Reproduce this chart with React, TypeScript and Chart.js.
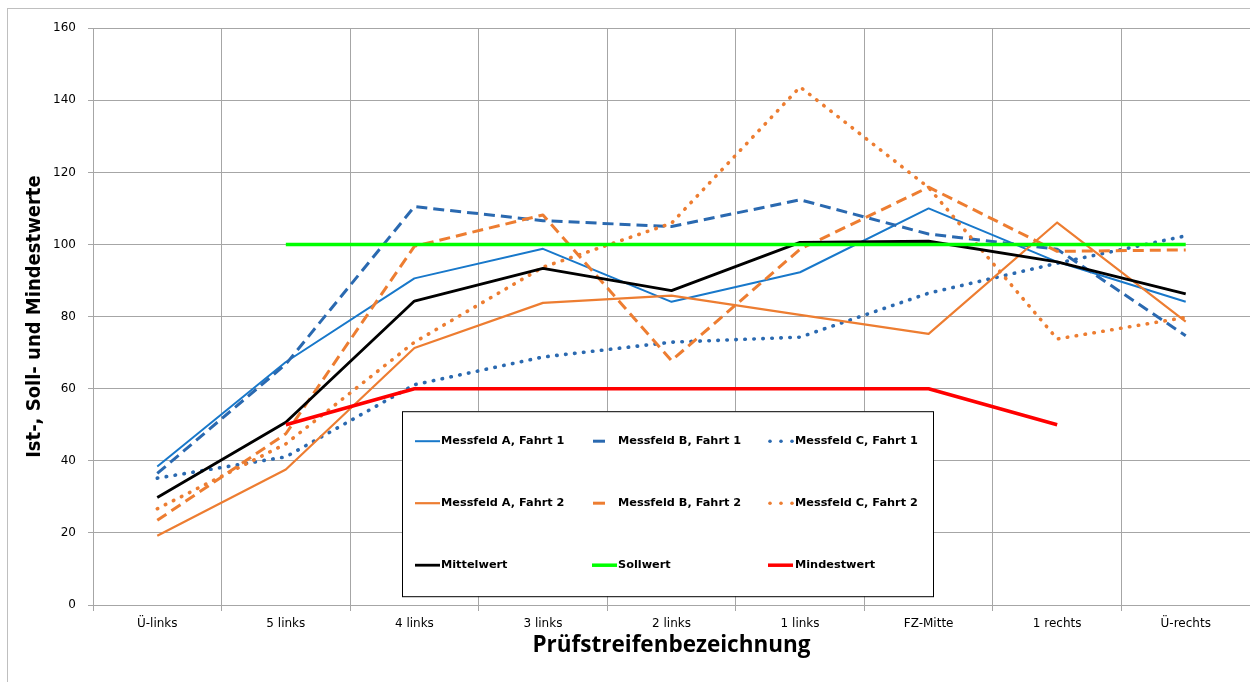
import React, { useEffect, useRef } from 'react';
import { Chart, registerables } from 'chart.js';

Chart.register(...registerables);

// Prüfstreifen (test strips) across the carriageway
const categories = ['Ü-links', '5 links', '4 links', '3 links', '2 links', '1 links', 'FZ-Mitte', '1 rechts', 'Ü-rechts'];

// Measured values per test field and run
const messfeldA1 = [38.4, 67.4, 90.6, 98.8, 84.1, 92.3, 110.0, 95.2, 84.1];
const messfeldB1 = [36.5, 66.8, 110.5, 106.6, 105.0, 112.4, 102.9, 98.7, 74.7];
const messfeldC1 = [35.2, 41.1, 61.1, 68.8, 72.9, 74.3, 86.5, 94.8, 102.4];
const messfeldA2 = [19.2, 37.6, 71.3, 83.8, 85.8, 80.5, 75.2, 106.1, 78.6];
const messfeldB2 = [23.5, 47.5, 99.5, 108.2, 67.8, 98.7, 115.9, 98.1, 98.5];
const messfeldC2 = [26.7, 44.7, 72.9, 93.7, 105.9, 143.7, 115.8, 73.8, 79.8];
const mittelwert = [29.8, 50.7, 84.3, 93.4, 87.2, 100.6, 100.9, 95.2, 86.3];
const sollwert = [null, 100, 100, 100, 100, 100, 100, 100, 100];
const mindestwert = [null, 50, 60, 60, 60, 60, 60, 50, null];

const yMin = 0;
const yMax = 160;
const yStep = 20;

const seriesLabels = [
  'Messfeld A, Fahrt 1', 'Messfeld B, Fahrt 1', 'Messfeld C, Fahrt 1',
  'Messfeld A, Fahrt 2', 'Messfeld B, Fahrt 2', 'Messfeld C, Fahrt 2',
  'Mittelwert', 'Sollwert', 'Mindestwert',
];
const seriesValues = [messfeldA1, messfeldB1, messfeldC1, messfeldA2, messfeldB2, messfeldC2, mittelwert, sollwert, mindestwert];

const BLUE_A = '#1878CA';
const BLUE_BC = '#2A69B0';
const ORANGE = '#ED7D31';

type LineKind = 'solid' | 'dash' | 'dot';
const seriesStyle: { color: string; width: number; kind: LineKind }[] = [
  { color: BLUE_A, width: 2, kind: 'solid' },
  { color: BLUE_BC, width: 3, kind: 'dash' },
  { color: BLUE_BC, width: 3.6, kind: 'dot' },
  { color: ORANGE, width: 2.2, kind: 'solid' },
  { color: ORANGE, width: 3, kind: 'dash' },
  { color: ORANGE, width: 3.6, kind: 'dot' },
  { color: '#000000', width: 2.8, kind: 'solid' },
  { color: '#00FF00', width: 3.5, kind: 'solid' },
  { color: '#FF0000', width: 3.5, kind: 'solid' },
];

const DASH = [11, 6];
const DOT = [0.5, 8.5];

const GRID = '#A6A6A6';
const TICK_FONT = "'DejaVu Sans', sans-serif";

// Framed legend placed inside the plot area
const boxLegend = {
  id: 'boxLegend',
  afterDatasetsDraw(chart: any) {
    const { ctx, chartArea } = chart;
    const bx = chartArea.left + 309;
    const by = chartArea.top + 383;
    const bw = 531;
    const bh = 185;
    const sampleX = [13, 190, 366];
    const textX = [39, 216, 393];
    const rowY = [30, 92, 154];
    ctx.save();
    ctx.fillStyle = '#ffffff';
    ctx.fillRect(bx, by, bw, bh);
    ctx.strokeStyle = '#000000';
    ctx.lineWidth = 1;
    ctx.strokeRect(bx + 0.5, by + 0.5, bw, bh);
    seriesLabels.forEach((label, i) => {
      const col = i % 3;
      const row = Math.floor(i / 3);
      const st = seriesStyle[i];
      const y = by + rowY[row];
      const x0 = bx + sampleX[col];
      ctx.strokeStyle = st.color;
      ctx.fillStyle = st.color;
      ctx.lineWidth = st.width;
      ctx.setLineDash([]);
      if (st.kind === 'solid') {
        ctx.lineCap = 'butt';
        ctx.beginPath();
        ctx.moveTo(x0, y);
        ctx.lineTo(x0 + 25, y);
        ctx.stroke();
      } else if (st.kind === 'dash') {
        ctx.lineCap = 'butt';
        ctx.beginPath();
        ctx.moveTo(x0 + 1, y);
        ctx.lineTo(x0 + 13, y);
        ctx.stroke();
      } else {
        for (let k = 0; k < 3; k++) {
          ctx.beginPath();
          ctx.arc(x0 + 2 + k * 11, y, st.width / 2, 0, Math.PI * 2);
          ctx.fill();
        }
      }
      ctx.fillStyle = '#000000';
      ctx.font = `bold 11.3px ${TICK_FONT}`;
      ctx.textAlign = 'left';
      ctx.textBaseline = 'middle';
      ctx.fillText(label, bx + textX[col], y);
    });
    ctx.restore();
  },
};

export default function App() {
  const canvasRef = useRef<HTMLCanvasElement | null>(null);

  useEffect(() => {
    const canvas = canvasRef.current;
    if (!canvas) return;

    const datasets = seriesLabels.map((label, i) => {
      const st = seriesStyle[i];
      return {
        label,
        data: seriesValues[i],
        borderColor: st.color,
        backgroundColor: st.color,
        borderWidth: st.width,
        borderDash: st.kind === 'dash' ? DASH : st.kind === 'dot' ? DOT : [],
        borderCapStyle: st.kind === 'dot' ? 'round' : 'butt',
        borderJoinStyle: 'round',
        pointRadius: 0,
        pointHoverRadius: 0,
        tension: 0,
        fill: false,
        spanGaps: false,
        order: seriesLabels.length - i,
      };
    });

    const chart = new Chart(canvas, {
      type: 'line',
      data: { labels: categories, datasets: datasets as any },
      plugins: [boxLegend],
      options: {
        responsive: false,
        animation: false,
        devicePixelRatio: 1,
        layout: { padding: { top: 19, right: 1, bottom: 0, left: 0 } },
        plugins: {
          legend: { display: false },
          tooltip: { enabled: false },
          title: { display: false },
        },
        scales: {
          x: {
            type: 'category',
            offset: true,
            grid: {
              offset: true,
              color: GRID,
              lineWidth: 1,
              drawTicks: true,
              tickLength: 6,
              tickColor: GRID,
            },
            border: { display: true, color: GRID, width: 1 },
            ticks: {
              color: '#000000',
              font: { family: TICK_FONT, size: 12 },
              padding: 6,
              maxRotation: 0,
              autoSkip: false,
            },
            title: {
              display: true,
              text: 'Prüfstreifenbezeichnung',
              color: '#000000',
              font: { family: "'Open Sans', sans-serif", size: 22.5, weight: 'bold' },
              padding: { top: 0, bottom: 23 },
            },
            afterFit(scale: any) {
              scale.height = 77;
            },
          },
          y: {
            type: 'linear',
            min: yMin,
            max: yMax,
            grid: {
              color: GRID,
              lineWidth: 1,
              drawTicks: true,
              tickLength: 5,
              tickColor: GRID,
            },
            border: { display: true, color: GRID, width: 1 },
            ticks: {
              stepSize: yStep,
              color: '#000000',
              font: { family: TICK_FONT, size: 12 },
              padding: 12,
            },
            title: {
              display: true,
              text: 'Ist-, Soll- und Mindestwerte',
              color: '#000000',
              font: { family: "'DejaVu Sans Condensed', sans-serif", size: 20, weight: 'bold' },
              padding: { top: 15, bottom: 0 },
            },
            afterFit(scale: any) {
              scale.width = 85;
            },
          },
        },
      },
    });

    return () => chart.destroy();
  }, []);

  return (
    <div
      style={{
        position: 'fixed',
        left: 7,
        top: 8,
        width: 1242,
        height: 673,
        overflow: 'hidden',
        borderLeft: '1px solid #BFBFBF',
        borderTop: '1px solid #BFBFBF',
        background: '#ffffff',
      }}
    >
      <canvas ref={canvasRef} width={1243} height={673} style={{ display: 'block' }} />
    </div>
  );
}
